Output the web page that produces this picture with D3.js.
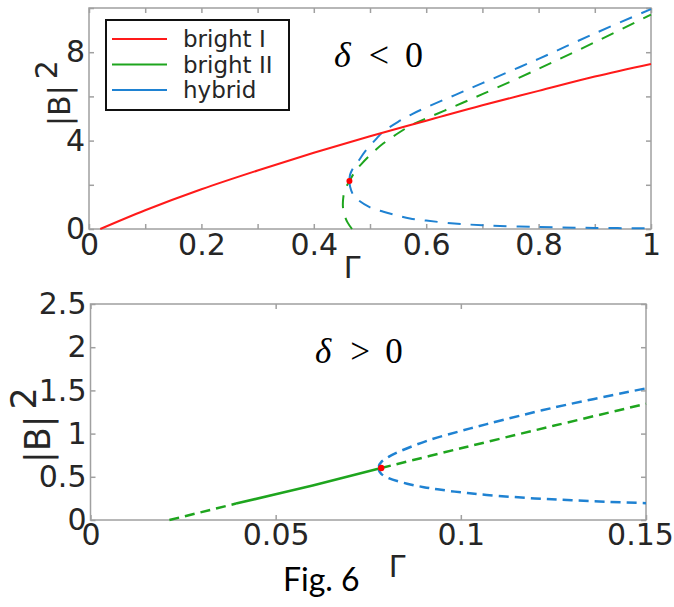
<!DOCTYPE html>
<html>
<head>
<meta charset="utf-8">
<script src="https://cdn.jsdelivr.net/npm/d3@7"></script>
<style>
  html, body { margin: 0; padding: 0; background: #fff; }
  svg { display: block; }
</style>
</head>
<body>
<svg id="chart" width="674" height="607"></svg>
<script>
// ---------------- DATA ----------------
// Top panel (delta < 0)
const topXTicks = [0, 0.1, 0.2, 0.3, 0.4, 0.5, 0.6, 0.7, 0.8, 0.9, 1.0];
const topXLabels = ["0", "", "0.2", "", "0.4", "", "0.6", "", "0.8", "", "1"];
const topYTicks = [0, 2, 4, 6, 8, 10];
const topYLabels = ["0", "", "4", "", "8", ""];

const brightI_top_G = [0.02, 0.1, 0.2, 0.3, 0.4, 0.5, 0.6, 0.7, 0.8, 0.9, 1.0];
const brightI_top_B = [0, 0.85, 1.8, 2.65, 3.45, 4.2, 4.9, 5.6, 6.25, 6.9, 7.47];

const brightII_top_G = [0.468, 0.460, 0.455, 0.452, 0.452, 0.455, 0.4634, 0.4735, 0.485, 0.497, 0.51, 0.524, 0.554, 0.575, 0.6, 0.65, 0.7, 0.8, 0.9, 1.0];
const brightII_top_B = [0.0, 0.3, 0.6, 0.95, 1.3, 1.75, 2.17, 2.6, 2.95, 3.27, 3.58, 3.88, 4.4, 4.72, 5.0, 5.55, 6.1, 7.25, 8.45, 9.7];

const hybridLow_top_G = [0.4634, 0.4646, 0.47, 0.479, 0.5, 0.524, 0.55, 0.571, 0.6, 0.65, 0.7, 0.8, 0.9, 1.0];
const hybridLow_top_B = [2.17, 1.91, 1.55, 1.31, 0.98, 0.78, 0.6, 0.48, 0.38, 0.25, 0.17, 0.09, 0.05, 0.03];
const hybridUp_top_G = [0.4634, 0.4645, 0.469, 0.48, 0.491, 0.512, 0.524, 0.55, 0.575, 0.6, 0.65, 0.7, 0.8, 0.9, 1.0];
const hybridUp_top_B = [2.17, 2.45, 2.72, 3.1, 3.5, 4.1, 4.41, 4.85, 5.2, 5.5, 6.05, 6.6, 7.7, 8.85, 9.95];

const foldTop = [0.4634, 2.17];

// Bottom panel (delta > 0)
const botXTicks = [0, 0.05, 0.1, 0.15];
const botXLabels = ["0", "0.05", "0.1", "0.15"];
const botYTicks = [0, 0.5, 1, 1.5, 2, 2.5];
const botYLabels = ["0", "0.5", "1", "1.5", "2", "2.5"];

const brightIIa_bot_G = [0.0213, 0.0393];
const brightIIa_bot_B = [0, 0.19];
const brightIIs_bot_G = [0.0393, 0.06, 0.0785];
const brightIIs_bot_B = [0.19, 0.40, 0.602];
const brightIIb_bot_G = [0.0785, 0.1, 0.125, 0.15];
const brightIIb_bot_B = [0.602, 0.83, 1.09, 1.345];

const hybridLow_bot_G = [0.0785, 0.0779, 0.0785, 0.0805, 0.0855, 0.09, 0.0937, 0.1, 0.107, 0.12, 0.13, 0.14, 0.15];
const hybridLow_bot_B = [0.602, 0.58, 0.535, 0.485, 0.42, 0.38, 0.355, 0.32, 0.29, 0.25, 0.228, 0.21, 0.195];
const hybridUp_bot_G = [0.0785, 0.0779, 0.0785, 0.0805, 0.0838, 0.0918, 0.1, 0.107, 0.125, 0.15];
const hybridUp_bot_B = [0.602, 0.625, 0.67, 0.73, 0.8, 0.93, 1.03, 1.11, 1.30, 1.524];

const foldBot = [0.0785, 0.602];

const legendNames = ["bright I", "bright II", "hybrid"];
const colors = { red: "#ff1a1a", green: "#1ea51e", blue: "#1f82d2" };
const legendColors = [colors.red, colors.green, colors.blue];

// ---------------- DRAW ----------------
const svg = d3.select("#chart");
const zip = (g, b) => g.map((v, i) => [v, b[i]]);
const axisColor = "#a0a0a0";
const tickFont = "DejaVu Sans, sans-serif";
const tickColor = "#262626";

function panel(cfg) {
  const g = svg.append("g");
  const x = d3.scaleLinear().domain(cfg.xDomain).range([cfg.left, cfg.right]);
  const y = d3.scaleLinear().domain(cfg.yDomain).range([cfg.bottom, cfg.top]);

  g.append("rect").attr("x", cfg.left).attr("y", cfg.top)
    .attr("width", cfg.right - cfg.left).attr("height", cfg.bottom - cfg.top)
    .attr("fill", "none").attr("stroke", axisColor).attr("stroke-width", 1.5);

  const fmtX = d => cfg.xLabels[cfg.xTicks.indexOf(d)];
  const fmtY = d => cfg.yLabels[cfg.yTicks.indexOf(d)];

  const ax = [
    g.append("g").attr("transform", `translate(0,${cfg.bottom})`)
      .call(d3.axisBottom(x).tickValues(cfg.xTicks).tickFormat(fmtX).tickSizeInner(-5).tickSizeOuter(0).tickPadding(cfg.xPad)),
    g.append("g").attr("transform", `translate(0,${cfg.top})`)
      .call(d3.axisTop(x).tickValues(cfg.xTicks).tickFormat("").tickSizeInner(-5).tickSizeOuter(0)),
    g.append("g").attr("transform", `translate(${cfg.left},0)`)
      .call(d3.axisLeft(y).tickValues(cfg.yTicks).tickFormat(fmtY).tickSizeInner(-5).tickSizeOuter(0).tickPadding(cfg.yPad)),
    g.append("g").attr("transform", `translate(${cfg.right},0)`)
      .call(d3.axisRight(y).tickValues(cfg.yTicks).tickFormat("").tickSizeInner(-5).tickSizeOuter(0))
  ];
  ax.forEach(a => {
    a.select(".domain").remove();
    a.selectAll(".tick line").attr("stroke", axisColor).attr("stroke-width", 1.5);
    a.selectAll(".tick text").attr("font-family", tickFont).attr("font-size", cfg.tickSize)
      .attr("fill", tickColor);
  });
  if (cfg.lastDx) {
    const texts = ax[0].selectAll(".tick text").nodes();
    d3.select(texts[texts.length - 1]).attr("dx", cfg.lastDx);
  }
  return { g, x, y };
}

function curve(p, G, B, color, dash, w) {
  const line = d3.line().x(d => p.x(d[0])).y(d => p.y(d[1])).curve(d3.curveCatmullRom.alpha(0.5));
  p.g.append("path").attr("d", line(zip(G, B))).attr("fill", "none")
    .attr("stroke", color).attr("stroke-width", w || 2)
    .attr("stroke-dasharray", dash || null).attr("stroke-linecap", "butt");
}

// ---- Top panel ----
const topP = panel({
  left: 89, right: 651, top: 8, bottom: 229,
  xDomain: [0, 1], yDomain: [0, 10],
  xTicks: topXTicks, xLabels: topXLabels, yTicks: topYTicks, yLabels: topYLabels,
  tickSize: 30, xPad: 5, yPad: 4
});
const dashTop = "13,10";
curve(topP, brightII_top_G, brightII_top_B, colors.green, dashTop, 2);
curve(topP, hybridLow_top_G, hybridLow_top_B, colors.blue, dashTop, 2);
curve(topP, hybridUp_top_G, hybridUp_top_B, colors.blue, dashTop, 2);
curve(topP, brightI_top_G, brightI_top_B, colors.red, null, 2);
topP.g.append("circle").attr("cx", topP.x(foldTop[0])).attr("cy", topP.y(foldTop[1])).attr("r", 3).attr("fill", "#ff0000");

// legend
const lg = svg.append("g");
lg.append("rect").attr("x", 106).attr("y", 20).attr("width", 183).attr("height", 90)
  .attr("fill", "#fff").attr("stroke", "#111").attr("stroke-width", 2);
legendNames.forEach((n, i) => {
  const yy = 39 + i * 25.5;
  lg.append("line").attr("x1", 112).attr("x2", 167).attr("y1", yy).attr("y2", yy)
    .attr("stroke", legendColors[i]).attr("stroke-width", 2);
  lg.append("text").attr("x", 183).attr("y", yy + 8).text(n)
    .attr("font-family", tickFont).attr("font-size", 23).attr("fill", tickColor);
});

function deltaLabel(x0, base, sym, symCx, zeroCx, size) {
  svg.append("text").attr("x", x0).attr("y", base).text("δ")
    .attr("font-family", "Liberation Serif, serif").attr("font-style", "italic").attr("font-size", size).attr("fill", "#000");
  svg.append("text").attr("x", symCx).attr("y", base).attr("text-anchor", "middle").text(sym)
    .attr("font-family", "Liberation Serif, serif").attr("font-size", size).attr("fill", "#000");
  svg.append("text").attr("x", zeroCx).attr("y", base).attr("text-anchor", "middle").text("0")
    .attr("font-family", "Liberation Serif, serif").attr("font-size", size).attr("fill", "#000");
}
deltaLabel(334, 67, "<", 379, 414, 36);

function yTitle(xb, yb, size, raise) {
  const t = svg.append("text").attr("transform", `translate(${xb},${yb}) rotate(-90)`)
    .attr("font-family", tickFont).attr("font-size", size).attr("fill", tickColor);
  t.append("tspan").text("|B|");
  t.append("tspan").attr("dx", 6).attr("dy", -raise).text("2");
}
yTitle(70, 126, 30, 13);

svg.append("text").attr("x", 352).attr("y", 278).attr("text-anchor", "middle").text("Γ")
  .attr("font-family", tickFont).attr("font-size", 30).attr("fill", tickColor);

// ---- Bottom panel ----
const botP = panel({
  left: 90.5, right: 646, top: 304, bottom: 520,
  xDomain: [0, 0.15], yDomain: [0, 2.5],
  xTicks: botXTicks, xLabels: botXLabels, yTicks: botYTicks, yLabels: botYLabels,
  tickSize: 30, xPad: 4, yPad: 4, lastDx: -6
});
const dashBot = "10,6";
curve(botP, brightIIa_bot_G, brightIIa_bot_B, colors.green, dashBot, 2.5);
curve(botP, brightIIs_bot_G, brightIIs_bot_B, colors.green, null, 2.5);
curve(botP, brightIIb_bot_G, brightIIb_bot_B, colors.green, dashBot, 2.5);
curve(botP, hybridLow_bot_G, hybridLow_bot_B, colors.blue, dashBot, 2.5);
curve(botP, hybridUp_bot_G, hybridUp_bot_B, colors.blue, dashBot, 2.5);
botP.g.append("circle").attr("cx", botP.x(foldBot[0])).attr("cy", botP.y(foldBot[1])).attr("r", 3.2).attr("fill", "#ff0000");

deltaLabel(315, 363, ">", 360, 394, 35);
yTitle(50, 463, 35, 14);

svg.append("text").attr("x", 397).attr("y", 577).attr("text-anchor", "middle").text("Γ")
  .attr("font-family", tickFont).attr("font-size", 30).attr("fill", tickColor);

svg.append("text").attr("x", 283).attr("y", 591).text("Fig. 6")
  .attr("font-family", "Lato, Carlito, sans-serif").attr("font-size", 32).attr("fill", "#000");
</script>
</body>
</html>
